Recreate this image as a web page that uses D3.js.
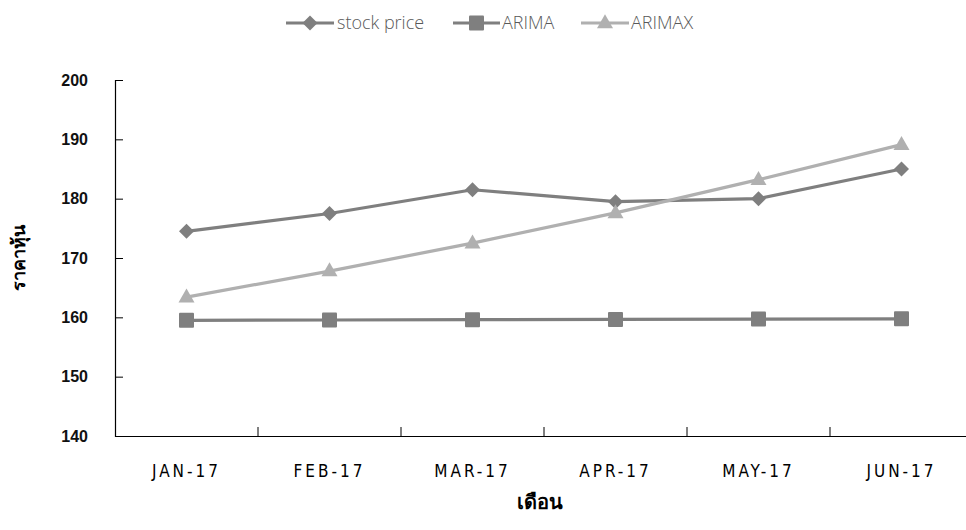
<!DOCTYPE html>
<html>
<head>
<meta charset="utf-8">
<script src="https://cdn.jsdelivr.net/npm/d3@7/dist/d3.min.js"></script>
<style>
  html, body { margin: 0; padding: 0; background: #fff; }
  svg { display: block; }
</style>
</head>
<body>
<script>
// Monthly stock price against two model forecasts
const months = ["JAN-17", "FEB-17", "MAR-17", "APR-17", "MAY-17", "JUN-17"];
const stockPrice = [174.5, 177.5, 181.5, 179.5, 180.0, 185.0];
const arima = [159.5, 159.55, 159.6, 159.65, 159.7, 159.75];
const arimax = [163.4, 167.8, 172.5, 177.6, 183.2, 189.1];
const yTicks = [140, 150, 160, 170, 180, 190, 200];

const W = 966, H = 530;
const svg = d3.select("body").append("svg").attr("width", W).attr("height", H);

const x = d3.scaleBand().domain(months).range([115, 973]);
const y = d3.scaleLinear().domain([140, 200]).range([436, 80]);

const series = [
  { name: "stock price", values: stockPrice, color: "#7f7f7f", kind: "diamond" },
  { name: "ARIMA", values: arima, color: "#7f7f7f", kind: "square" },
  { name: "ARIMAX", values: arimax, color: "#b0b0b0", kind: "triangle" }
];

function drawMarker(g, kind, cx, cy, color) {
  if (kind === "diamond") {
    const r = 7.5;
    g.append("path")
      .attr("d", `M${cx},${cy - r}L${cx + r},${cy}L${cx},${cy + r}L${cx - r},${cy}Z`)
      .attr("fill", color);
  } else if (kind === "square") {
    const s = 15;
    g.append("rect")
      .attr("x", cx - s / 2).attr("y", cy - s / 2)
      .attr("width", s).attr("height", s)
      .attr("rx", 1)
      .attr("fill", color);
  } else {
    const w = 16, h = 14;
    g.append("path")
      .attr("d", `M${cx},${cy - h * 0.62}L${cx + w / 2},${cy + h * 0.38}L${cx - w / 2},${cy + h * 0.38}Z`)
      .attr("fill", color);
  }
}

// Axes
const yAxis = d3.axisLeft(y).tickValues(yTicks).tickSize(-8).tickPadding(27).tickFormat(d3.format("d"));
const gy = svg.append("g").attr("transform", "translate(115,0)").call(yAxis);
gy.select(".domain").attr("stroke", "#000").attr("stroke-width", 1.2);
gy.selectAll(".tick line").attr("stroke", "#000");
gy.selectAll("text")
  .attr("font-family", "Liberation Sans, Arial, sans-serif")
  .attr("font-size", 16).attr("font-weight", 700).attr("fill", "#111");

const xAxis = d3.axisBottom(x).tickSize(0).tickPadding(29);
const gx = svg.append("g").attr("transform", "translate(0,436)").call(xAxis);
gx.select(".domain").attr("stroke", "#000").attr("stroke-width", 1.2);
gx.selectAll("text")
  .attr("font-family", "DejaVu Sans Condensed, DejaVu Sans, sans-serif")
  .attr("font-size", 17).attr("letter-spacing", "3px").attr("fill", "#000");

// Category boundary ticks pointing up into the plot
svg.append("g").selectAll("line")
  .data(months.slice(1))
  .join("line")
  .attr("x1", d => x(d)).attr("x2", d => x(d))
  .attr("y1", 436).attr("y2", 427)
  .attr("stroke", "#000").attr("stroke-width", 1);

// Axis titles
svg.append("text")
  .attr("transform", "translate(25,258) rotate(-90)")
  .attr("text-anchor", "middle")
  .attr("font-family", "Noto Sans, sans-serif")
  .attr("font-size", 18).attr("font-weight", 700).attr("fill", "#000")
  .text("ราคาหุ้น");

svg.append("text")
  .attr("x", 540).attr("y", 509)
  .attr("text-anchor", "middle")
  .attr("font-family", "Noto Sans, sans-serif")
  .attr("font-size", 20).attr("font-weight", 700).attr("fill", "#000")
  .text("เดือน");

// Series lines and markers
const line = d3.line()
  .x((d, i) => x(months[i]) + x.bandwidth() / 2)
  .y(d => y(d));

series.forEach(s => {
  const g = svg.append("g");
  g.append("path")
    .attr("d", line(s.values))
    .attr("fill", "none")
    .attr("stroke", s.color)
    .attr("stroke-width", 3.2)
    .attr("stroke-linejoin", "round");
  s.values.forEach((v, i) => {
    drawMarker(g, s.kind, x(months[i]) + x.bandwidth() / 2, y(v), s.color);
  });
});

// Legend
const legendItems = [
  { s: series[0], x0: 286, x1: 334, tx: 337 },
  { s: series[1], x0: 453, x1: 500, tx: 502 },
  { s: series[2], x0: 581, x1: 629, tx: 631 }
];
const ly = 23;
legendItems.forEach(it => {
  const g = svg.append("g");
  g.append("line")
    .attr("x1", it.x0).attr("x2", it.x1).attr("y1", ly).attr("y2", ly)
    .attr("stroke", it.s.color).attr("stroke-width", 3.2);
  drawMarker(g, it.s.kind, (it.x0 + it.x1) / 2, ly, it.s.color);
  g.append("text")
    .attr("x", it.tx).attr("y", ly + 6)
    .attr("font-family", "Open Sans, sans-serif")
    .attr("font-size", 18).attr("font-weight", 300).attr("fill", "#595959")
    .text(it.s.name);
});
</script>
</body>
</html>
